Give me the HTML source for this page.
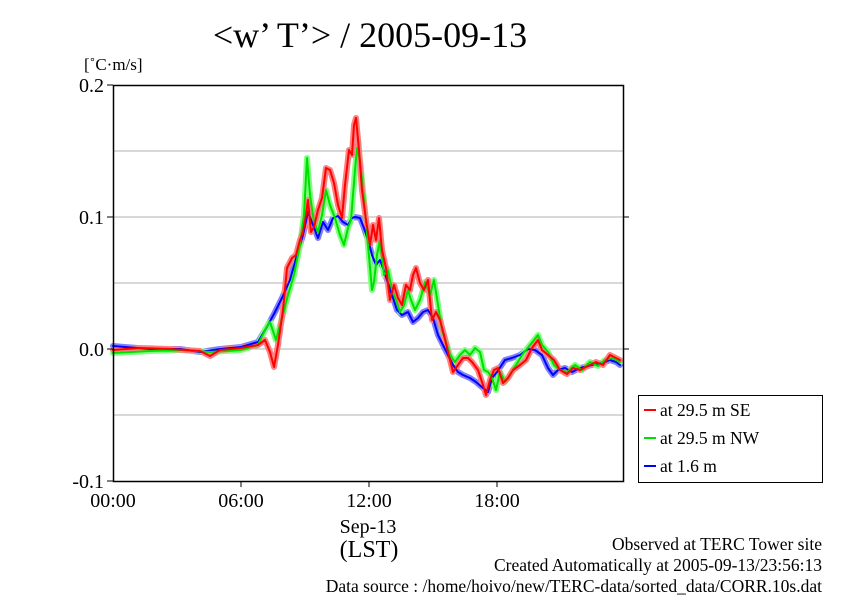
<!DOCTYPE html>
<html><head><meta charset="utf-8"><style>
body{margin:0;background:#fff;}
svg{display:block;font-family:"Liberation Serif",serif;}
</style></head><body>
<svg width="842" height="595" viewBox="0 0 842 595" xmlns="http://www.w3.org/2000/svg">
<rect width="842" height="595" fill="#fff"/>
<text x="370" y="47" font-size="36" text-anchor="middle">&lt;w’ T’&gt; / 2005-09-13</text>
<text x="84" y="70" font-size="17">[˚C·m/s]</text>
<g stroke="#b0b0b0" stroke-width="1">
<line x1="113" y1="151" x2="623" y2="151"/><line x1="113" y1="217" x2="623" y2="217"/>
<line x1="113" y1="283" x2="623" y2="283"/><line x1="113" y1="349" x2="623" y2="349"/>
<line x1="113" y1="415" x2="623" y2="415"/>
</g>
<g fill="none" stroke-linejoin="round" stroke-linecap="round">
<polyline stroke="#8080ff" stroke-width="6" points="113,346 150,349 180,349 200,352 220,349 241,347 258,342 268,325 275,312 282,298 290,280 297,255 303,235 308,212 313,225 318,238 323,222 328,230 333,218 338,216 343,222 348,225 352,218 355,217 360,218 364,228 368,240 372,255 376,265 380,260 383,268 387,280 392,295 397,310 402,315 408,312 413,322 418,318 423,312 428,310 433,318 438,335 443,345 448,355 453,365 458,372 463,375 470,378 476,382 483,388 488,392 492,378 497,372 505,360 512,358 520,355 528,349 535,350 542,355 548,368 553,375 558,370 565,368 572,372 580,368 588,366 595,364 603,363 610,360 616,362 620,365"/>
<polyline stroke="#80ff80" stroke-width="6" points="113,353 150,351 180,350 210,352 241,350 258,345 266,328 270,322 276,340 282,318 288,295 294,275 300,245 304,215 307,158 310,195 314,222 318,232 322,215 326,190 330,205 335,218 340,235 344,245 348,228 351,220 355,170 357,148 360,160 364,200 368,245 372,290 374,282 377,255 380,240 384,275 388,270 392,290 396,300 400,312 404,305 408,290 411,300 415,310 420,300 425,282 430,295 434,280 438,305 442,330 446,342 450,355 455,362 460,355 465,350 470,355 475,348 480,352 484,370 488,372 492,378 496,390 500,372 505,382 510,375 516,365 522,355 530,345 538,335 542,345 548,352 554,365 560,370 567,372 575,365 582,370 590,362 598,366 605,360 612,358 620,362"/>
<polyline stroke="#ff8080" stroke-width="6" points="113,350 140,348 170,349 200,351 210,356 220,350 241,348 258,345 265,340 270,352 274,367 278,345 283,310 287,268 292,258 296,255 300,240 303,232 306,215 308,200 311,232 314,227 318,210 322,198 326,168 330,170 334,183 338,205 342,218 345,185 349,150 352,155 354,125 356,118 359,150 362,190 366,220 370,245 373,225 376,240 379,218 382,250 386,268 390,300 394,285 398,298 402,305 406,285 410,290 413,275 416,268 420,283 424,290 428,280 432,320 436,312 440,320 444,335 448,352 453,372 458,365 463,358 468,358 472,362 478,370 483,385 486,395 490,380 494,370 498,368 503,383 508,378 513,370 520,365 526,360 532,348 538,340 542,350 548,355 554,360 560,370 567,374 573,368 580,370 588,366 596,362 603,365 610,355 616,358 620,360"/>
<polyline stroke="#0000ff" stroke-width="2" points="113,346 150,349 180,349 200,352 220,349 241,347 258,342 268,325 275,312 282,298 290,280 297,255 303,235 308,212 313,225 318,238 323,222 328,230 333,218 338,216 343,222 348,225 352,218 355,217 360,218 364,228 368,240 372,255 376,265 380,260 383,268 387,280 392,295 397,310 402,315 408,312 413,322 418,318 423,312 428,310 433,318 438,335 443,345 448,355 453,365 458,372 463,375 470,378 476,382 483,388 488,392 492,378 497,372 505,360 512,358 520,355 528,349 535,350 542,355 548,368 553,375 558,370 565,368 572,372 580,368 588,366 595,364 603,363 610,360 616,362 620,365"/>
<polyline stroke="#00e000" stroke-width="2" points="113,353 150,351 180,350 210,352 241,350 258,345 266,328 270,322 276,340 282,318 288,295 294,275 300,245 304,215 307,158 310,195 314,222 318,232 322,215 326,190 330,205 335,218 340,235 344,245 348,228 351,220 355,170 357,148 360,160 364,200 368,245 372,290 374,282 377,255 380,240 384,275 388,270 392,290 396,300 400,312 404,305 408,290 411,300 415,310 420,300 425,282 430,295 434,280 438,305 442,330 446,342 450,355 455,362 460,355 465,350 470,355 475,348 480,352 484,370 488,372 492,378 496,390 500,372 505,382 510,375 516,365 522,355 530,345 538,335 542,345 548,352 554,365 560,370 567,372 575,365 582,370 590,362 598,366 605,360 612,358 620,362"/>
<polyline stroke="#ff0000" stroke-width="2" points="113,350 140,348 170,349 200,351 210,356 220,350 241,348 258,345 265,340 270,352 274,367 278,345 283,310 287,268 292,258 296,255 300,240 303,232 306,215 308,200 311,232 314,227 318,210 322,198 326,168 330,170 334,183 338,205 342,218 345,185 349,150 352,155 354,125 356,118 359,150 362,190 366,220 370,245 373,225 376,240 379,218 382,250 386,268 390,300 394,285 398,298 402,305 406,285 410,290 413,275 416,268 420,283 424,290 428,280 432,320 436,312 440,320 444,335 448,352 453,372 458,365 463,358 468,358 472,362 478,370 483,385 486,395 490,380 494,370 498,368 503,383 508,378 513,370 520,365 526,360 532,348 538,340 542,350 548,355 554,360 560,370 567,374 573,368 580,370 588,366 596,362 603,365 610,355 616,358 620,360"/>
</g>
<rect x="113.5" y="85.5" width="510" height="396" fill="none" stroke="#000" stroke-width="1.5"/>
<g stroke="#000" stroke-width="1">
<line x1="107" y1="85" x2="113" y2="85"/><line x1="107" y1="217" x2="113" y2="217"/><line x1="107" y1="349" x2="113" y2="349"/><line x1="107" y1="481" x2="113" y2="481"/>
<line x1="623" y1="217" x2="629" y2="217"/><line x1="623" y1="349" x2="629" y2="349"/>
<line x1="241" y1="481" x2="241" y2="487"/><line x1="369" y1="481" x2="369" y2="487"/><line x1="497" y1="481" x2="497" y2="487"/>
</g>
<g font-size="20" text-anchor="end">
<text x="104" y="92">0.2</text><text x="104" y="224">0.1</text><text x="104" y="356">0.0</text><text x="104" y="488">-0.1</text>
</g>
<g font-size="20" text-anchor="middle">
<text x="113" y="507">00:00</text><text x="241" y="507">06:00</text><text x="369" y="507">12:00</text><text x="497" y="507">18:00</text>
<text x="368" y="533" font-size="20">Sep-13</text><text x="369" y="557" font-size="24">(LST)</text>
</g>
<rect x="638.5" y="395.5" width="184" height="87" fill="#fff" stroke="#000"/>
<g stroke-width="2">
<line x1="644" y1="410" x2="656" y2="410" stroke="#ff0000"/>
<line x1="644" y1="438" x2="656" y2="438" stroke="#00e000"/>
<line x1="644" y1="466" x2="656" y2="466" stroke="#0000ff"/>
</g>
<g font-size="17.5">
<text x="660" y="416">at 29.5 m SE</text><text x="660" y="444">at 29.5 m NW</text><text x="660" y="472">at 1.6 m</text>
</g>
<g font-size="17.5" text-anchor="end">
<text x="822" y="550">Observed at TERC Tower site</text>
<text x="822" y="571">Created Automatically at 2005-09-13/23:56:13</text>
<text x="822" y="592">Data source : /home/hoivo/new/TERC-data/sorted_data/CORR.10s.dat</text>
</g>
</svg>
</body></html>
